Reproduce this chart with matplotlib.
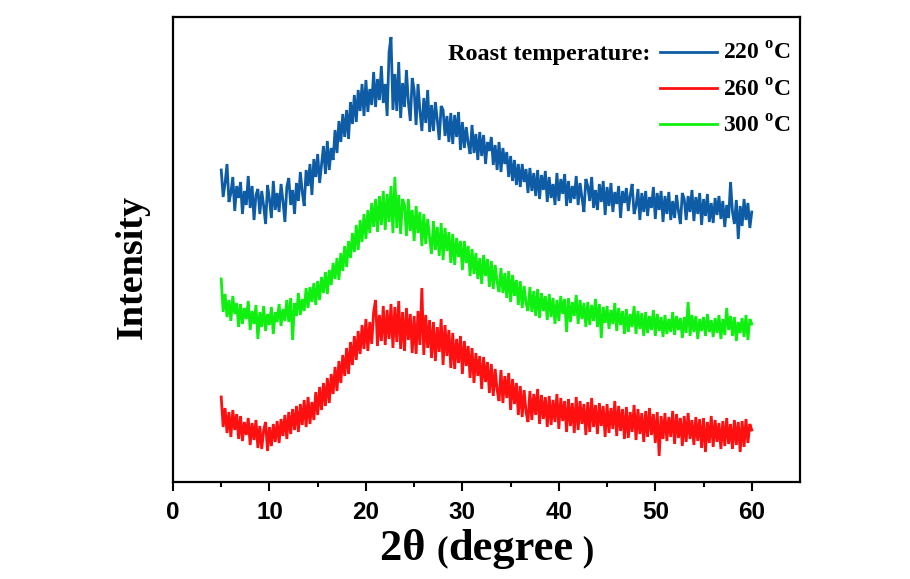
import numpy as np
import matplotlib
matplotlib.use("Agg")
import matplotlib.pyplot as plt

plt.rcParams['mathtext.fontset'] = 'custom'
plt.rcParams['mathtext.rm'] = 'Liberation Serif:bold'
plt.rcParams['mathtext.bf'] = 'Liberation Serif:bold'

# 2-theta grid, 5 to 60 degree in 0.2 degree steps (276 points)
two_theta = np.linspace(5.0, 60.0, 276)

# Intensity (arbitrary units, curves stacked as in the figure), one row per degree
intensity_220 = [
    312, 285, 299, 318, 280,
    289, 305, 271, 296, 284,
    300, 268, 291, 277, 306,
    274, 296, 262, 287, 293,
    268, 291, 276, 258, 297,
    283, 264, 301, 272, 289,
    270, 298, 281, 260, 295,
    304, 277, 292, 268, 299,
    281, 310, 290, 276, 312,
    296, 318, 287, 323, 305,
    328, 299, 318, 336, 308,
    341, 312, 334, 322, 352,
    329, 361, 340, 368, 345,
    372, 343, 380, 358, 387,
    360, 392, 371, 398, 366,
    402, 370, 393, 377, 410,
    375, 403, 382, 416, 379,
    398, 366, 430, 445, 372,
    408, 371, 420, 364, 399,
    375, 412, 380, 361, 404,
    392, 357, 398, 371, 351,
    384, 359, 392, 350, 377,
    351, 380, 362, 342, 376,
    372, 346, 366, 340, 369,
    338, 367, 345, 370, 332,
    360, 334, 355, 339, 328,
    357, 329, 348, 322, 350,
    326, 347, 318, 340, 331,
    345, 317, 337, 312, 340,
    310, 334, 318, 330, 305,
    326, 301, 322, 297, 318,
    295, 318, 300, 313, 289,
    314, 291, 309, 286, 312,
    283, 307, 292, 311, 280,
    305, 284, 298, 277, 309,
    281, 303, 288, 308, 276,
    301, 279, 296, 283, 306,
    277, 299, 284, 270, 303,
    296, 281, 305, 274, 292,
    272, 298, 280, 301, 267,
    295, 276, 299, 270, 290,
    278, 296, 264, 291, 279,
    294, 271, 287, 298, 268,
    276, 293, 262, 289, 270,
    291, 266, 285, 274, 295,
    263, 289, 272, 291, 260,
    286, 268, 290, 262, 281,
    264, 287, 271, 258, 289,
    283, 262, 286, 270, 292,
    261, 285, 268, 289, 257,
    283, 266, 288, 260, 279,
    259, 284, 267, 286, 263,
    281, 255, 277, 264, 300,
    270, 258, 282, 243, 276,
    256, 283, 262, 279, 254,
    270,
]

intensity_260 = [
    85, 55, 74, 49, 70,
    45, 72, 52, 68, 43,
    66, 41, 60, 47, 64,
    37, 59, 42, 62, 34,
    56, 33, 52, 60, 31,
    55, 36, 58, 40, 61,
    39, 63, 46, 67, 43,
    70, 48, 73, 52, 76,
    50, 78, 57, 82, 55,
    85, 58, 80, 62, 90,
    67, 95, 72, 99, 76,
    104, 79, 108, 88, 115,
    91, 121, 99, 127, 106,
    134, 108, 140, 117, 146,
    122, 151, 128, 157, 133,
    163, 131, 160, 138, 170,
    182, 136, 167, 141, 176,
    137, 172, 143, 178, 134,
    175, 140, 181, 133, 170,
    131, 174, 142, 168, 129,
    166, 128, 171, 137, 194,
    127, 167, 134, 162, 124,
    160, 121, 155, 130, 163,
    117, 157, 126, 152, 114,
    149, 113, 143, 119, 146,
    108, 141, 116, 136, 104,
    134, 99, 129, 106, 126,
    93, 125, 100, 120, 89,
    118, 86, 113, 92, 81,
    112, 79, 106, 84, 109,
    72, 103, 78, 99, 67,
    96, 65, 92, 70, 60,
    91, 62, 88, 67, 93,
    58, 87, 63, 85, 55,
    86, 57, 82, 60, 88,
    53, 84, 61, 81, 50,
    83, 56, 79, 49, 85,
    52, 81, 58, 78, 47,
    80, 50, 84, 55, 77,
    48, 79, 56, 76, 45,
    78, 49, 74, 53, 81,
    46, 76, 51, 73, 43,
    75, 44, 70, 50, 77,
    42, 73, 48, 69, 40,
    71, 45, 74, 47, 68,
    39, 70, 26, 66, 43,
    69, 41, 65, 45, 71,
    38, 68, 44, 64, 36,
    66, 40, 69, 43, 62,
    37, 65, 41, 63, 34,
    64, 30, 60, 39, 66,
    35, 62, 40, 59, 33,
    61, 36, 64, 38, 58,
    33, 62, 37, 60, 30,
    61, 35, 63, 39, 58,
    52,
]

intensity_300 = [
    203, 170, 188, 165, 182,
    161, 186, 168, 179, 155,
    178, 158, 174, 163, 181,
    152, 171, 158, 177, 143,
    170, 155, 176, 151, 168,
    157, 175, 148, 170, 160,
    178, 156, 173, 161, 182,
    160, 184, 142, 179, 166,
    189, 167, 183, 171, 194,
    174, 195, 180, 199, 177,
    201, 182, 205, 189, 210,
    188, 212, 197, 219, 203,
    224, 202, 229, 211, 236,
    215, 241, 224, 249, 230,
    257, 232, 262, 240, 268,
    243, 272, 249, 279, 255,
    283, 250, 286, 257, 291,
    252, 288, 260, 296, 249,
    305, 254, 287, 248, 283,
    277, 246, 283, 251, 272,
    241, 276, 249, 270, 236,
    268, 238, 263, 244, 228,
    261, 232, 255, 226, 259,
    222, 254, 231, 250, 219,
    248, 217, 244, 225, 241,
    212, 241, 219, 236, 206,
    233, 208, 229, 203, 224,
    198, 227, 206, 223, 195,
    221, 193, 217, 200, 190,
    214, 189, 209, 184, 211,
    180, 207, 186, 202, 177,
    201, 174, 196, 179, 171,
    195, 170, 191, 166, 193,
    164, 189, 171, 186, 162,
    188, 165, 184, 158, 182,
    161, 186, 168, 183, 150,
    184, 160, 180, 166, 187,
    158, 182, 163, 179, 155,
    180, 157, 177, 161, 183,
    155, 178, 144, 175, 159,
    176, 153, 172, 158, 179,
    151, 174, 157, 171, 148,
    173, 150, 168, 155, 176,
    148, 171, 153, 169, 146,
    170, 149, 166, 152, 172,
    146, 168, 151, 165, 145,
    167, 148, 163, 150, 170,
    147, 166, 152, 164, 144,
    165, 149, 180, 146, 167,
    150, 166, 143, 163, 151,
    165, 146, 168, 150, 162,
    145, 164, 149, 167, 143,
    163, 147, 174, 152, 166,
    146, 165, 141, 160, 149,
    164, 145, 167, 142, 163,
    158,
]

series_labels = [r"220 $^{\mathrm{o}}$C", r"260 $^{\mathrm{o}}$C", r"300 $^{\mathrm{o}}$C"]
series_colors = ["#0E5CA5", "#FF1010", "#10F010"]
x_ticks = [0, 10, 20, 30, 40, 50, 60]

W, H = 910, 579
fig = plt.figure(figsize=(W / 100, H / 100), dpi=100)
ax = fig.add_axes([173 / W, 1 - 482 / H, (800 - 173) / W, (482 - 17) / H])

lines = []
for y, lab, c in zip([intensity_220, intensity_260, intensity_300], series_labels, series_colors):
    ln, = ax.plot(two_theta, y, color=c, lw=2.0, label=lab, solid_joinstyle='miter')
    lines.append(ln)

ax.set_xlim(0, 65)
ax.set_ylim(0, 465)
ax.set_yticks([])
ax.set_xticks(x_ticks)
ax.set_xticks(np.arange(5, 65, 10), minor=True)
ax.tick_params(axis='x', which='major', direction='out', length=6.5, width=1.5, pad=7,
               top=False, labelsize=17.5)
ax.tick_params(axis='x', which='minor', direction='out', length=3.6, width=1.5, top=False)
for lbl in ax.get_xticklabels():
    lbl.set_fontfamily('Liberation Sans')
    lbl.set_fontweight('bold')
for s in ax.spines.values():
    s.set_linewidth(1.6)

# x label: "2θ (degree )" with smaller parentheses, built from consecutive text pieces
renderer = fig.canvas.get_renderer()
pieces = [("2θ ", 32), ("(", 25), ("degree", 32), (" )", 25)]
texts = []
for s, fs in pieces:
    t = fig.text(0, 1 - 560 / H, s, ha='left', va='baseline', fontfamily='Liberation Serif',
                 fontweight='bold', fontsize=fs)
    texts.append(t)
widths = [t.get_window_extent(renderer).width for t in texts]
x0 = 487 - sum(widths) / 2
for t, w in zip(texts, widths):
    t.set_x(x0 / W)
    x0 += w

fig.text(132 / W, 1 - 267 / H, "Intensity", ha='center', va='center', rotation=90,
         fontfamily='Liberation Serif', fontweight='bold', fontsize=27.5)

leg = ax.legend(handles=lines, loc='upper left', bbox_to_anchor=(660 / W, 1 - 43 / H),
                bbox_transform=fig.transFigure, frameon=False, borderpad=0,
                borderaxespad=0, handlelength=2.4, handletextpad=0.25, labelspacing=0.6,
                prop={'family': 'Liberation Serif', 'weight': 'bold', 'size': 17})
for lh in leg.legend_handles:
    lh.set_linewidth(2)

fig.text(650 / W, 1 - 60 / H, "Roast temperature:", ha='right', va='baseline',
         fontfamily='Liberation Serif', fontweight='bold', fontsize=17.5)

fig.savefig("out.png", dpi=100)
